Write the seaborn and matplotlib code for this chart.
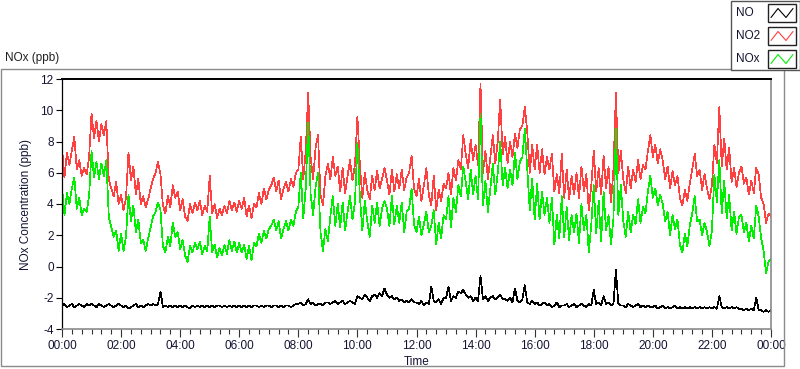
import matplotlib
matplotlib.use("Agg")
import matplotlib.pyplot as plt
import matplotlib.dates as mdates
from matplotlib.patches import Rectangle
from matplotlib.lines import Line2D
import seaborn as sns
import pandas as pd

# 5-minute readings, 00:00 .. 24:00 (one row per hour in the source layout)
no2_ppb = [
    7.6, 5.7, 7.3, 6.5, 7.4, 8.3, 6.2, 6.8, 5.8, 6.3, 5.9, 7.0,
    9.8, 8.2, 9.3, 8.0, 9.1, 8.4, 9.3, 5.6, 5.0, 4.5, 5.4, 4.0,
    4.6, 3.6, 4.4, 7.3, 5.5, 6.4, 4.6, 5.6, 4.0, 4.5, 3.8, 4.3,
    5.0, 5.6, 6.0, 6.7, 5.9, 3.9, 3.4, 4.5, 3.8, 5.2, 4.4, 4.8,
    3.6, 4.3, 3.2, 2.9, 4.0, 3.4, 4.1, 3.6, 4.2, 3.3, 3.9, 3.5,
    5.8, 3.4, 4.0, 3.1, 3.7, 3.3, 3.9, 3.4, 4.2, 3.6, 4.1, 3.5,
    4.2, 3.7, 4.4, 3.2, 3.9, 3.1, 4.0, 3.8, 4.7, 4.0, 5.0, 4.3,
    4.9, 5.2, 5.7, 4.8, 5.5, 4.3, 5.0, 5.4, 4.8, 5.6, 5.1, 6.0,
    6.2, 8.3, 5.6, 7.4, 11.1, 7.0, 5.6, 7.6, 8.4, 4.6, 3.9, 5.8,
    6.6, 5.6, 7.0, 5.8, 6.4, 4.8, 6.3, 4.7, 5.8, 6.8, 5.5, 6.5,
    9.6, 6.5, 4.4, 6.0, 4.9, 4.3, 5.8, 4.9, 6.1, 5.0, 5.6, 6.3,
    5.5, 4.6, 6.2, 4.8, 5.9, 5.0, 6.2, 4.9, 5.7, 6.0, 7.1, 5.0,
    4.5, 5.6, 4.2, 5.2, 6.3, 4.6, 3.9, 5.8, 3.6, 4.9, 4.2, 5.3,
    5.0, 6.0, 4.6, 6.3, 5.5, 6.8, 6.2, 8.4, 7.2, 6.3, 8.1, 6.8,
    7.8, 6.5, 11.7, 6.0, 7.4, 5.6, 7.0, 8.4, 6.6, 8.0, 10.7, 7.2,
    8.3, 6.6, 8.0, 7.0, 8.5, 7.6, 8.8, 9.0, 10.2, 8.6, 6.0, 7.8,
    6.2, 7.8, 6.0, 7.5, 5.9, 7.0, 6.2, 7.2, 4.8, 5.9, 4.7, 7.2,
    4.4, 6.2, 4.3, 5.8, 4.6, 6.0, 4.4, 6.4, 4.8, 5.9, 3.6, 5.2,
    7.4, 4.8, 6.3, 4.6, 7.1, 5.0, 6.4, 4.1, 6.2, 11.1, 6.0, 7.4,
    5.6, 4.7, 6.4, 5.0, 6.2, 5.4, 6.8, 5.6, 6.5, 6.2, 7.4, 8.4,
    7.0, 7.8, 6.6, 7.5, 6.8, 5.6, 6.4, 5.0, 6.1, 5.2, 5.8, 4.4,
    3.9, 4.9, 4.2, 5.3, 6.2, 7.2, 5.8, 6.2, 4.9, 5.9, 5.0, 4.3,
    5.2, 7.8, 6.6, 10.2, 6.4, 8.2, 6.2, 7.6, 5.4, 6.3, 5.1, 6.0,
    6.4, 5.3, 5.7, 4.6, 5.5, 4.7, 6.3, 5.9, 4.4, 4.0, 2.8, 3.4,
    3.2,
]

nox_ppb = [
    5.1, 3.3, 4.7, 4.0, 5.0, 5.7, 3.7, 4.4, 3.3, 3.7, 3.5, 4.5,
    7.4, 5.7, 6.7, 5.6, 6.6, 5.8, 6.8, 3.2, 2.5, 1.9, 2.3, 1.0,
    2.1, 1.0, 1.9, 4.6, 2.9, 3.9, 2.2, 3.0, 1.5, 1.7, 1.0, 1.8,
    2.5, 3.2, 3.5, 4.1, 3.6, 1.3, 0.9, 1.9, 1.3, 2.8, 1.9, 2.2,
    1.1, 1.7, 0.7, 0.3, 1.3, 0.9, 1.5, 1.1, 1.6, 0.8, 1.3, 1.0,
    3.2, 0.9, 1.4, 0.6, 1.2, 0.7, 1.4, 0.8, 1.7, 1.0, 1.6, 0.9,
    1.5, 0.9, 1.4, 0.5, 1.3, 0.4, 1.5, 1.3, 2.1, 1.5, 2.3, 1.8,
    2.4, 2.6, 3.0, 2.3, 2.9, 1.8, 2.4, 2.9, 2.3, 3.0, 2.6, 3.5,
    3.8, 6.0, 3.1, 5.0, 9.2, 4.6, 3.3, 5.1, 6.0, 2.2, 1.0, 2.4,
    1.6, 3.2, 4.5, 2.6, 4.0, 2.5, 4.1, 2.3, 3.5, 4.5, 3.0, 4.1,
    7.9, 4.5, 2.3, 4.2, 2.9, 1.9, 3.9, 2.8, 4.1, 2.6, 3.7, 4.2,
    3.7, 2.6, 4.5, 2.7, 3.9, 2.8, 4.1, 2.2, 3.5, 3.7, 5.0, 2.7,
    2.2, 3.2, 2.0, 2.7, 3.5, 2.2, 2.6, 3.6, 1.4, 2.8, 1.8, 3.3,
    3.0, 4.5, 2.5, 4.4, 3.5, 5.2, 4.5, 6.4, 5.4, 4.3, 6.2, 4.6,
    5.8, 4.3, 9.8, 3.9, 5.5, 3.5, 5.0, 6.6, 4.6, 6.0, 8.0, 5.2,
    6.3, 5.0, 6.2, 5.2, 7.3, 5.6, 6.7, 7.0, 8.8, 6.2, 3.6, 5.6,
    3.0, 5.3, 3.0, 4.8, 3.3, 4.4, 2.8, 4.4, 1.4, 3.3, 1.8, 4.5,
    1.9, 3.8, 1.7, 3.3, 2.2, 3.4, 1.5, 4.0, 2.3, 3.3, 0.9, 2.7,
    5.2, 2.1, 4.2, 1.6, 4.8, 2.3, 3.3, 1.4, 3.1, 8.8, 3.3, 5.2,
    2.9, 1.9, 3.5, 2.2, 3.3, 2.7, 4.3, 2.8, 3.8, 3.4, 4.8, 5.8,
    4.4, 5.0, 3.9, 4.6, 4.0, 2.9, 3.5, 2.0, 3.3, 2.4, 3.0, 1.4,
    0.9, 2.1, 1.3, 2.6, 3.4, 4.5, 2.9, 3.0, 2.0, 2.8, 2.2, 1.3,
    2.3, 5.9, 4.1, 6.8, 3.4, 5.5, 3.1, 4.6, 2.3, 3.5, 2.1, 3.2,
    3.3, 2.2, 2.8, 1.6, 2.6, 1.8, 3.9, 3.2, 1.8, 1.0, -0.4, 0.3,
    0.5,
]

no_ppb = [
    -2.5, -2.4, -2.6, -2.5, -2.4, -2.6, -2.5, -2.4, -2.5, -2.6, -2.4, -2.5,
    -2.4, -2.5, -2.6, -2.4, -2.5, -2.6, -2.5, -2.4, -2.5, -2.6, -2.5, -2.4,
    -2.5, -2.6, -2.5, -2.7, -2.6, -2.5, -2.4, -2.6, -2.5, -2.6, -2.5, -2.4,
    -2.5, -2.4, -2.5, -2.4, -1.6, -2.6, -2.5, -2.6, -2.5, -2.6, -2.5, -2.6,
    -2.5, -2.6, -2.5, -2.6, -2.7, -2.5, -2.6, -2.5, -2.6, -2.5, -2.6, -2.5,
    -2.6, -2.5, -2.6, -2.5, -2.5, -2.6, -2.5, -2.6, -2.5, -2.6, -2.5, -2.6,
    -2.5, -2.6, -2.5, -2.6, -2.5, -2.6, -2.5, -2.5, -2.6, -2.5, -2.6, -2.5,
    -2.5, -2.6, -2.5, -2.5, -2.6, -2.5, -2.6, -2.5, -2.5, -2.6, -2.5, -2.4,
    -2.4, -2.3, -2.5, -2.4, -2.1, -2.4, -2.3, -2.5, -2.4, -2.4, -2.5, -2.3,
    -2.3, -2.4, -2.3, -2.2, -2.4, -2.3, -2.2, -2.4, -2.3, -2.2, -2.3, -2.4,
    -1.9, -2.0, -2.1, -1.8, -2.0, -2.2, -1.9, -1.8, -2.0, -1.7, -1.9, -1.4,
    -1.8, -2.0, -1.9, -2.1, -2.0, -2.2, -2.1, -2.3, -2.2, -2.3, -2.1, -2.3,
    -2.3, -2.4, -2.2, -2.5, -2.3, -2.4, -1.3, -2.2, -2.3, -2.1, -2.4, -2.0,
    -2.0, -1.3, -2.2, -1.9, -2.0, -1.6, -1.7, -1.5, -1.8, -2.0, -1.9, -2.2,
    -2.0, -2.2, -0.6, -2.1, -1.9, -2.2, -2.0, -1.9, -2.1, -2.0, -1.8, -2.1,
    -2.1, -2.2, -2.0, -2.3, -1.4, -2.2, -2.3, -2.1, -1.2, -2.3, -2.4, -2.2,
    -2.4, -2.3, -2.5, -2.4, -2.3, -2.5, -2.4, -2.6, -2.5, -2.3, -2.6, -2.5,
    -2.5, -2.4, -2.6, -2.5, -2.4, -2.6, -2.5, -2.4, -2.5, -2.6, -2.4, -2.5,
    -1.5, -2.4, -2.3, -2.5, -1.9, -2.4, -2.3, -2.5, -2.4, -0.2, -2.4, -2.5,
    -2.5, -2.6, -2.4, -2.5, -2.6, -2.5, -2.4, -2.6, -2.5, -2.6, -2.5, -2.6,
    -2.6, -2.5, -2.7, -2.6, -2.5, -2.7, -2.6, -2.7, -2.6, -2.5, -2.7, -2.6,
    -2.7, -2.6, -2.7, -2.6, -2.7, -2.6, -2.7, -2.6, -2.7, -2.6, -2.7, -2.6,
    -2.7, -2.6, -2.7, -1.9, -2.6, -2.7, -2.6, -2.7, -2.6, -2.7, -2.6, -2.7,
    -2.7, -2.8, -2.7, -2.8, -2.7, -2.8, -2.0, -2.8, -2.8, -2.9, -2.8, -2.9,
    -2.8,
]

series_names = ["NO", "NO2", "NOx"]
series_colors = ["#000000", "#ff4040", "#00ee00"]
y_ticks = [-4, -2, 0, 2, 4, 6, 8, 10, 12]

times = pd.date_range("2024-01-01 00:00", "2024-01-02 00:00", freq="5min")
df = pd.DataFrame({"time": times, "NO": no_ppb, "NO2": no2_ppb, "NOx": nox_ppb})

sns.set_theme(style="white")
plt.rcParams["font.family"] = ["Liberation Sans", "DejaVu Sans"]
plt.rcParams["axes.unicode_minus"] = False

W, H = 800, 369
TXT = "#141432"
fig = plt.figure(figsize=(W / 100, H / 100), dpi=100)

# outer panel frame
fig.add_artist(Rectangle((0.5 / W, 1 - 366 / H), 783 / W, (366 - 69) / H,
                         transform=fig.transFigure, fill=False,
                         ec="#8a8a8a", lw=1))
fig.text(5 / W, 1 - 58 / H, "NOx (ppb)", ha="left", va="center",
         fontsize=8.5, color="#202020")

ax = fig.add_axes([62 / W, 1 - 329 / H, (771 - 62) / W, 250 / H])
for name, color in zip(series_names, series_colors):
    sns.lineplot(data=df, x="time", y=name, color=color, lw=0.5,
                 ax=ax, legend=False, antialiased=False)

ax.set_xlim(times[0], times[-1])
ax.set_ylim(-4, 12)
ax.set_yticks(y_ticks)
ax.xaxis.set_major_locator(mdates.HourLocator(byhour=range(0, 24, 2)))
ax.xaxis.set_minor_locator(mdates.MinuteLocator(byminute=[0, 20, 40]))
ax.xaxis.set_major_formatter(mdates.DateFormatter("%H:%M"))

ax.tick_params(axis="x", which="major", direction="out", length=6, width=0.8,
               color="#333333", labelsize=8.5, labelcolor=TXT, pad=2, bottom=True)
ax.tick_params(axis="x", which="minor", direction="out", length=3.5, width=0.8,
               color="#333333", bottom=True)
ax.tick_params(axis="y", which="major", direction="out", length=4, width=0.8,
               color="#000000", labelsize=8.5, labelcolor=TXT, pad=2, left=True)

ax.spines["top"].set_color("black")
ax.spines["top"].set_linewidth(1.4)
ax.spines["left"].set_color("black")
ax.spines["left"].set_linewidth(0.9)
ax.spines["bottom"].set_color("#8a8a8a")
ax.spines["right"].set_color("#8a8a8a")
ax.spines["bottom"].set_linewidth(1.2)
ax.spines["right"].set_linewidth(1.2)

ax.set_xlabel("Time", fontsize=8.5, color=TXT, labelpad=3)
ax.set_ylabel("NOx Concentration (ppb)", fontsize=8.5, color=TXT, labelpad=6)

# legend panel, top right
fig.add_artist(Rectangle((730.5 / W, 1 - 70 / H), 69 / W, 69.5 / H,
                         transform=fig.transFigure, fc="white",
                         ec="#555555", lw=1, zorder=5))
for i, (name, color) in enumerate(zip(series_names, series_colors)):
    top = 4.5 + 23 * i
    fig.text(736 / W, 1 - (top + 8.5) / H, name, ha="left", va="center",
             fontsize=8.5, color=TXT, zorder=6)
    fig.add_artist(Rectangle((768 / W, 1 - (top + 17) / H), 28 / W, 17 / H,
                             transform=fig.transFigure, fc="white",
                             ec="#222222", lw=1, zorder=6))
    zx = [771, 778, 786, 793]
    zy = [top + 13, top + 4, top + 13, top + 4]
    fig.add_artist(Line2D([x / W for x in zx], [1 - y / H for y in zy],
                          transform=fig.transFigure, color=color, lw=0.8,
                          zorder=7))

fig.savefig("out.png", dpi=100)
